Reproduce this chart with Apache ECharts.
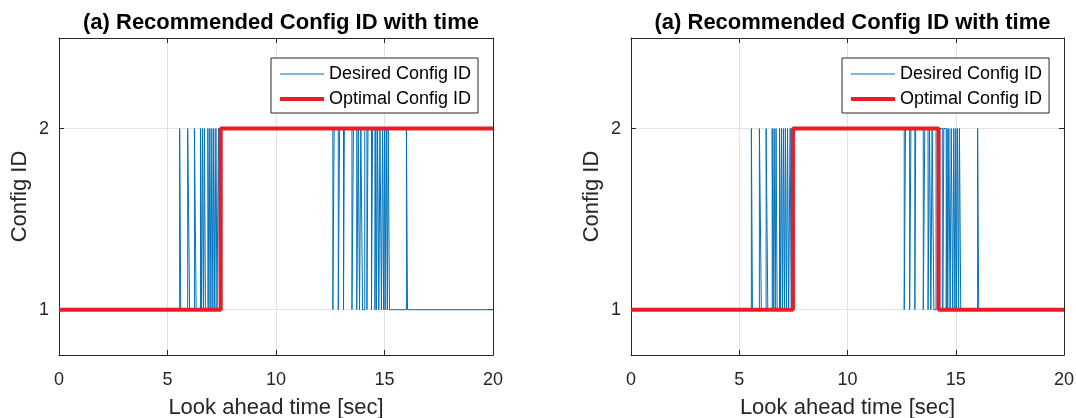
<!DOCTYPE html>
<html>
<head>
<meta charset="utf-8">
<script src="https://cdn.jsdelivr.net/npm/echarts@6/dist/echarts.min.js"></script>
<style>
  html, body { margin: 0; padding: 0; background: #fff; }
  #chart { width: 1076px; height: 418px; }
</style>
</head>
<body>
<div id="chart"></div>
<script>
const titleText = '(a) Recommended Config ID with time'
const seriesNames = ['Desired Config ID', 'Optimal Config ID']
const yTicks = [1, 2]

// desired config (same in both panels), sample-and-hold
const desiredTime = [
  0,
  5.56, 5.61, 5.93, 6.02, 6.24, 6.32, 6.52, 6.57, 6.61, 6.66, 6.70, 6.75,
  6.86, 6.91, 6.95, 7.00, 7.04, 7.09, 7.13, 7.18, 7.23, 7.28, 7.35, 7.40,
  7.50,
  12.62, 12.68, 12.87, 12.93, 13.11, 13.15, 13.50, 13.57, 13.72, 13.79,
  13.85, 13.91, 13.99, 14.09, 14.19, 14.24, 14.40, 14.45, 14.56, 14.60,
  14.63, 14.68, 14.74, 14.79, 14.86, 14.91, 14.96, 15.00, 15.03, 15.08,
  15.13, 15.17,
  15.23,
  16.01, 16.06,
  20
]
const desiredValue = [
  1,
  2, 1, 2, 1, 2, 1, 2, 1, 2, 1, 2, 1,
  2, 1, 2, 1, 2, 1, 2, 1, 2, 1, 2, 1,
  2,
  1, 2, 1, 2, 1, 2, 1, 2, 1, 2,
  1, 2, 1, 2, 1, 2, 1, 2, 1, 2,
  1, 2, 1, 2, 1, 2, 1, 2, 1, 2,
  1, 2,
  1,
  2, 1,
  1
]

const optimalTime1 = [0, 7.45, 20]
const optimalValue1 = [1, 2, 2]
const optimalTime2 = [0, 7.48, 14.21, 20]
const optimalValue2 = [1, 2, 1, 1]

const zip = (t, v) => t.map((x, i) => [x, v[i]])

const font = 'Liberation Sans, Arial, Helvetica, sans-serif'
const axisColor = '#262626'
const blue = '#0072BD'
const red = '#EC1C24'
const grids = [
  { left: 59, top: 38, width: 434, height: 317, outerBoundsMode: 'none', containLabel: false },
  { left: 631, top: 38, width: 433, height: 317, outerBoundsMode: 'none', containLabel: false }
]

const xAxes = []
const yAxes = []
const series = []
const titles = []
const legends = []

const panels = [
  { optimal: zip(optimalTime1, optimalValue1) },
  { optimal: zip(optimalTime2, optimalValue2) }
]

panels.forEach((p, g) => {
  const grid = grids[g]
  titles.push({
    text: titleText,
    left: grid.left + grid.width / 2,
    top: 7,
    textAlign: 'center',
    textStyle: { fontFamily: font, fontSize: 22, fontWeight: 'bold', color: '#000' }
  })
  legends.push({
    data: [
      { name: seriesNames[0], lineStyle: { width: 1, color: blue } },
      { name: seriesNames[1], lineStyle: { width: 4, color: red } }
    ],
    orient: 'vertical',
    left: grid.left + grid.width - 222,
    top: 58,
    itemWidth: 44,
    itemHeight: 14,
    itemGap: 7,
    padding: [7, 7, 5, 7],
    backgroundColor: '#fff',
    borderColor: axisColor,
    borderWidth: 1,
    borderRadius: 0,
    itemStyle: { opacity: 0 },
    textStyle: { fontFamily: font, fontSize: 18, color: '#000' }
  })

  const baseX = {
    gridIndex: g, type: 'value', min: 0, max: 20, interval: 5,
    axisLine: { onZero: false, lineStyle: { color: axisColor, width: 1 } },
    axisTick: { inside: true, length: 5, lineStyle: { color: axisColor } }
  }
  xAxes.push(Object.assign({}, baseX, {
    position: 'bottom',
    name: 'Look ahead time [sec]',
    nameLocation: 'middle',
    nameGap: 42,
    nameTextStyle: { fontFamily: font, fontSize: 22, color: axisColor },
    axisLabel: { fontFamily: font, fontSize: 18, color: axisColor, margin: 16 },
    splitLine: { show: true, lineStyle: { color: '#e3e3e3', width: 1 } }
  }))
  xAxes.push(Object.assign({}, baseX, {
    position: 'top',
    axisLabel: { show: false },
    splitLine: { show: false }
  }))

  const baseY = {
    gridIndex: g, type: 'value', min: 0.75, max: 2.5,
    axisLine: { onZero: false, show: true, lineStyle: { color: axisColor, width: 1 } },
    axisTick: { show: true, inside: true, length: 5, customValues: yTicks, lineStyle: { color: axisColor } }
  }
  yAxes.push(Object.assign({}, baseY, {
    position: 'left',
    name: 'Config ID',
    nameLocation: 'middle',
    nameGap: 28,
    nameTextStyle: { fontFamily: font, fontSize: 22, color: axisColor },
    axisLabel: { fontFamily: font, fontSize: 18, color: axisColor, margin: 10, customValues: yTicks },
    splitLine: { show: true, lineStyle: { color: '#e3e3e3', width: 1 } }
  }))
  yAxes.push(Object.assign({}, baseY, {
    position: 'right',
    axisLabel: { show: false },
    splitLine: { show: false }
  }))

  series.push({
    name: seriesNames[0], type: 'line', step: 'end',
    xAxisIndex: g * 2, yAxisIndex: g * 2,
    data: zip(desiredTime, desiredValue),
    showSymbol: false, symbol: 'none',
    lineStyle: { color: blue, width: 1 },
    itemStyle: { color: blue },
    z: 2
  })
  series.push({
    name: seriesNames[1], type: 'line', step: 'end',
    xAxisIndex: g * 2, yAxisIndex: g * 2,
    data: p.optimal,
    showSymbol: false, symbol: 'none',
    lineStyle: { color: red, width: 4 },
    itemStyle: { color: red },
    z: 3
  })
})

const chart = echarts.init(document.getElementById('chart'))
chart.setOption({
  animation: false,
  backgroundColor: '#fff',
  title: titles,
  legend: legends,
  grid: grids,
  xAxis: xAxes,
  yAxis: yAxes,
  series: series
})
</script>
</body>
</html>
